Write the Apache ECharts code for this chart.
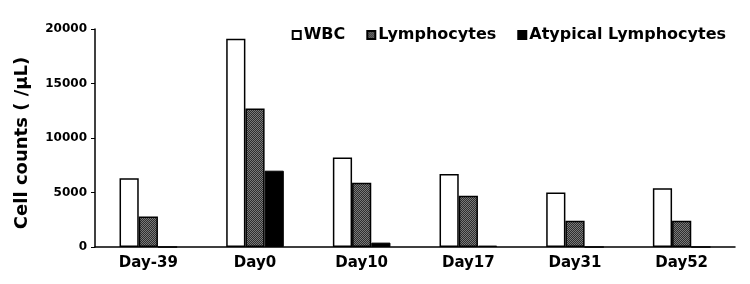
<!DOCTYPE html>
<html>
<head>
<meta charset="utf-8">
<script src="https://cdn.jsdelivr.net/npm/echarts@6/dist/echarts.min.js"></script>
<style>
  body { margin: 0; background: #fff; }
  #chart { width: 750px; height: 284px; }
</style>
</head>
<body>
<div id="chart"></div>
<script>
const days = ["Day-39", "Day0", "Day10", "Day17", "Day31", "Day52"];
const wbc = [6300, 19100, 8200, 6700, 5000, 5400];
const lymphocytes = [2800, 12700, 5900, 4700, 2400, 2400];
const atypical = [0, 7000, 400, 130, 0, 0];
const yTicks = [0, 5000, 10000, 15000, 20000];

// checkered grey fill like the original
const tile = document.createElement("canvas");
tile.width = 2;
tile.height = 2;
const tctx = tile.getContext("2d");
tctx.fillStyle = "#2e2e2e";
tctx.fillRect(0, 0, 2, 2);
tctx.fillStyle = "#7a7a7a";
tctx.fillRect(0, 0, 1, 1);
tctx.fillRect(1, 1, 1, 1);
const checker = { image: tile, repeat: "repeat" };

const font = "DejaVu Sans";
const chart = echarts.init(document.getElementById("chart"));

chart.setOption({
  animation: false,
  textStyle: { fontFamily: font },
  legend: {
    top: 22,
    right: 19,
    itemWidth: 8,
    itemHeight: 8,
    itemGap: 21,
    icon: "rect",
    textStyle: { fontSize: 16, fontWeight: "bold", color: "#000", padding: [0, 0, 0, -2] },
    data: ["WBC", "Lymphocytes", "Atypical Lymphocytes"]
  },
  grid: { left: 95, right: 15, top: 29, bottom: 37 },
  xAxis: {
    type: "category",
    data: days,
    axisLine: { lineStyle: { color: "#000", width: 1.5 } },
    axisTick: { show: false },
    axisLabel: { color: "#000", fontSize: 15, fontWeight: "bold", margin: 9 }
  },
  yAxis: {
    type: "value",
    min: yTicks[0],
    max: yTicks[yTicks.length - 1],
    interval: 5000,
    name: "Cell counts ( /\u03bcL)",
    nameLocation: "middle",
    nameGap: 64,
    nameTextStyle: { fontSize: 18, fontWeight: "bold", color: "#000", padding: [0, 10, 0, 0] },
    axisLine: { show: true, lineStyle: { color: "#000", width: 1.5 } },
    axisTick: { show: true, length: 4, lineStyle: { color: "#000" } },
    splitLine: { show: false },
    axisLabel: {
      color: "#000", fontSize: 12, fontWeight: "bold", margin: 8,
      formatter: (v) => String(v)
    }
  },
  series: [
    {
      name: "WBC",
      type: "bar",
      data: wbc,
      barGap: "0%",
      barCategoryGap: "46%",
      itemStyle: { color: "#fff", borderColor: "#000", borderWidth: 1.5 }
    },
    {
      name: "Lymphocytes",
      type: "bar",
      data: lymphocytes,
      itemStyle: { color: checker, borderColor: "#000", borderWidth: 1.5 }
    },
    {
      name: "Atypical Lymphocytes",
      type: "bar",
      data: atypical,
      itemStyle: { color: "#000", borderColor: "#000", borderWidth: 1 }
    }
  ]
});
</script>
</body>
</html>
